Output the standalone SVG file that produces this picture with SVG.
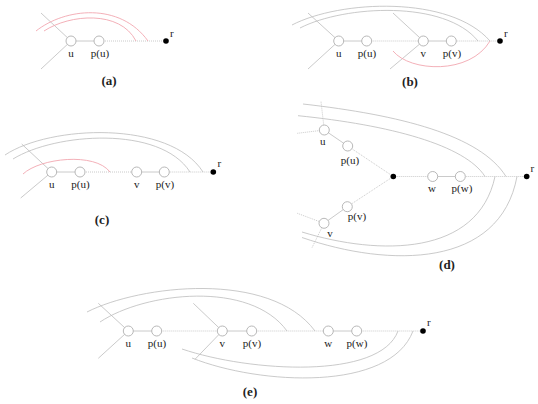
<svg xmlns="http://www.w3.org/2000/svg" width="538" height="404" viewBox="0 0 538 404">
<style>
.bg{fill:#fff}
.ln{fill:none;stroke:#bdbdbd;stroke-width:0.8}
.dt{fill:none;stroke:#c4c4c4;stroke-width:0.9;stroke-dasharray:1,1}
.pk{fill:none;stroke:#f2a7b0;stroke-width:0.9}
.nd{fill:#fff;stroke:#b0b0b0;stroke-width:0.9}
.rt{fill:#000}
.lb{font-family:"Liberation Serif",serif;font-size:11px;fill:#222;text-anchor:middle}
.rl{font-family:"Liberation Serif",serif;font-size:11px;fill:#222}
.cap{font-family:"Liberation Serif",serif;font-size:13px;font-weight:bold;fill:#222;text-anchor:middle}
</style>
<rect class="bg" width="538" height="404"/>
<g id="connectors">
<!-- (a) -->
<line class="ln" x1="41" y1="13" x2="71" y2="41"/>
<line class="ln" x1="41" y1="69" x2="71" y2="41"/>
<line class="ln" x1="71" y1="41" x2="99" y2="41"/>
<line class="dt" x1="99" y1="41" x2="166" y2="41"/>
<path class="pk" d="M36,31 C65,8 120,2 148,41"/>
<path class="pk" d="M44,31 C70,14 120,10 136,41"/>
<!-- (b) -->
<line class="ln" x1="308" y1="13" x2="338.7" y2="41"/>
<line class="ln" x1="308" y1="69" x2="338.7" y2="41"/>
<line class="ln" x1="393" y1="13" x2="423.3" y2="41"/>
<line class="ln" x1="390" y1="69" x2="423.3" y2="41"/>
<line class="ln" x1="338.7" y1="41" x2="366.7" y2="41"/>
<line class="dt" x1="366.7" y1="41" x2="423.3" y2="41"/>
<line class="ln" x1="423.3" y1="41" x2="451.3" y2="41"/>
<line class="dt" x1="451.3" y1="41" x2="500" y2="41"/>
<path class="ln" d="M292,25 C340,0 450,-5 490,41"/>
<path class="ln" d="M300,28 C345,5 445,0 478,41"/>
<path class="pk" d="M393,51 C410,72 470,75 490,41"/>
<!-- (c) -->
<line class="ln" x1="21.7" y1="144" x2="51.7" y2="172"/>
<line class="ln" x1="20.7" y1="198" x2="51.7" y2="172"/>
<line class="ln" x1="51.7" y1="172" x2="80" y2="172"/>
<line class="dt" x1="80" y1="172" x2="136.7" y2="172"/>
<line class="ln" x1="136.7" y1="172" x2="164.3" y2="172"/>
<line class="dt" x1="164.3" y1="172" x2="213.3" y2="172"/>
<path class="ln" d="M5,155 C50,125 170,120 203,172"/>
<path class="ln" d="M13,159 C55,133 160,125 190,172"/>
<path class="pk" d="M23,174 C40,158 95,152 110,172"/>
<!-- (d) -->
<line class="dt" x1="321" y1="101.7" x2="324.3" y2="130"/>
<line class="dt" x1="297.3" y1="133.3" x2="324.3" y2="130"/>
<line class="dt" x1="297.3" y1="213.3" x2="324" y2="223.3"/>
<line class="dt" x1="324" y1="223.3" x2="311.7" y2="248.3"/>
<line class="ln" x1="324.3" y1="130" x2="347.7" y2="146"/>
<line class="dt" x1="347.7" y1="146" x2="393.3" y2="176.5"/>
<line class="dt" x1="393.3" y1="176.5" x2="347.3" y2="206.7"/>
<line class="ln" x1="347.3" y1="206.7" x2="324" y2="223.3"/>
<line class="dt" x1="393.3" y1="176.5" x2="432.7" y2="176.5"/>
<line class="ln" x1="432.7" y1="176.5" x2="460.3" y2="176.5"/>
<line class="dt" x1="460.3" y1="176.5" x2="526.7" y2="176.5"/>
<path class="ln" d="M303,104 C400,115 480,135 506,176.5"/>
<path class="ln" d="M298,115.7 C390,125 465,145 485,176.5"/>
<path class="ln" d="M302,232 C380,256 478,256 495,176.5"/>
<path class="ln" d="M302,237.5 C390,268 500,268 517,176.5"/>
<!-- (e) -->
<line class="ln" x1="98.3" y1="303.3" x2="128.3" y2="331"/>
<line class="ln" x1="98.3" y1="358.3" x2="128.3" y2="331"/>
<line class="ln" x1="193.3" y1="303.3" x2="222.3" y2="331"/>
<line class="ln" x1="195" y1="359.3" x2="222.3" y2="331"/>
<line class="ln" x1="128.3" y1="331" x2="156.7" y2="331"/>
<line class="dt" x1="156.7" y1="331" x2="222.3" y2="331"/>
<line class="ln" x1="222.3" y1="331" x2="251.7" y2="331"/>
<line class="dt" x1="251.7" y1="331" x2="328.3" y2="331"/>
<line class="ln" x1="328.3" y1="331" x2="356.7" y2="331"/>
<line class="dt" x1="356.7" y1="331" x2="423" y2="331"/>
<path class="ln" d="M87,312 C140,285 270,270 315,331"/>
<path class="ln" d="M100,322 C145,292 250,280 287,331"/>
<path class="ln" d="M182,349 C250,372 380,380 398,331"/>
<path class="ln" d="M192,358 C260,385 390,392 413,331"/>
</g>
<!-- (a) nodes -->
<g id="a-u"><circle class="nd" cx="71" cy="41" r="5"/><text class="lb" x="71" y="57">u</text></g>
<g id="a-pu"><circle class="nd" cx="99" cy="41" r="5"/><text class="lb" x="100" y="57">p(u)</text></g>
<g id="a-r"><circle class="rt" cx="166" cy="41" r="2.8"/><text class="rl" x="170" y="37">r</text></g>
<text class="cap" x="109" y="85">(a)</text>
<!-- (b) nodes -->
<g id="b-u"><circle class="nd" cx="338.7" cy="41" r="5"/><text class="lb" x="338.7" y="57">u</text></g>
<g id="b-pu"><circle class="nd" cx="366.7" cy="41" r="5"/><text class="lb" x="367" y="57">p(u)</text></g>
<g id="b-v"><circle class="nd" cx="423.3" cy="41" r="5"/><text class="lb" x="423.3" y="57">v</text></g>
<g id="b-pv"><circle class="nd" cx="451.3" cy="41" r="5"/><text class="lb" x="452" y="57">p(v)</text></g>
<g id="b-r"><circle class="rt" cx="500" cy="41" r="2.8"/><text class="rl" x="504" y="37">r</text></g>
<text class="cap" x="410" y="86">(b)</text>
<!-- (c) nodes -->
<g id="c-u"><circle class="nd" cx="51.7" cy="172" r="5"/><text class="lb" x="51.7" y="188">u</text></g>
<g id="c-pu"><circle class="nd" cx="80" cy="172" r="5"/><text class="lb" x="80.5" y="188">p(u)</text></g>
<g id="c-v"><circle class="nd" cx="136.7" cy="172" r="5"/><text class="lb" x="136.7" y="188">v</text></g>
<g id="c-pv"><circle class="nd" cx="164.3" cy="172" r="5"/><text class="lb" x="165" y="188">p(v)</text></g>
<g id="c-r"><circle class="rt" cx="213.3" cy="172" r="2.8"/><text class="rl" x="217.5" y="167">r</text></g>
<text class="cap" x="102" y="224">(c)</text>
<!-- (d) nodes -->
<g id="d-u"><circle class="nd" cx="324.3" cy="130" r="5"/><text class="lb" x="322.7" y="145">u</text></g>
<g id="d-pu"><circle class="nd" cx="347.7" cy="146" r="5"/><text class="lb" x="350" y="164">p(u)</text></g>
<g id="d-c"><circle class="rt" cx="393.3" cy="176.5" r="2.8"/></g>
<g id="d-pv"><circle class="nd" cx="347.3" cy="206.7" r="5"/><text class="lb" x="357" y="220">p(v)</text></g>
<g id="d-v"><circle class="nd" cx="324" cy="223.3" r="5"/><text class="lb" x="330" y="237">v</text></g>
<g id="d-w"><circle class="nd" cx="432.7" cy="176.5" r="5"/><text class="lb" x="432" y="192">w</text></g>
<g id="d-pw"><circle class="nd" cx="460.3" cy="176.5" r="5"/><text class="lb" x="462" y="192">p(w)</text></g>
<g id="d-r"><circle class="rt" cx="526.7" cy="176.5" r="2.8"/><text class="rl" x="530.5" y="172">r</text></g>
<text class="cap" x="447" y="269">(d)</text>
<!-- (e) nodes -->
<g id="e-u"><circle class="nd" cx="128.3" cy="331" r="5"/><text class="lb" x="128.3" y="347">u</text></g>
<g id="e-pu"><circle class="nd" cx="156.7" cy="331" r="5"/><text class="lb" x="157" y="347">p(u)</text></g>
<g id="e-v"><circle class="nd" cx="222.3" cy="331" r="5"/><text class="lb" x="222.3" y="347">v</text></g>
<g id="e-pv"><circle class="nd" cx="251.7" cy="331" r="5"/><text class="lb" x="252" y="347">p(v)</text></g>
<g id="e-w"><circle class="nd" cx="328.3" cy="331" r="5"/><text class="lb" x="328.3" y="347">w</text></g>
<g id="e-pw"><circle class="nd" cx="356.7" cy="331" r="5"/><text class="lb" x="357" y="347">p(w)</text></g>
<g id="e-r"><circle class="rt" cx="423" cy="331" r="2.8"/><text class="rl" x="427" y="326">r</text></g>
<text class="cap" x="250" y="396">(e)</text>
</svg>
